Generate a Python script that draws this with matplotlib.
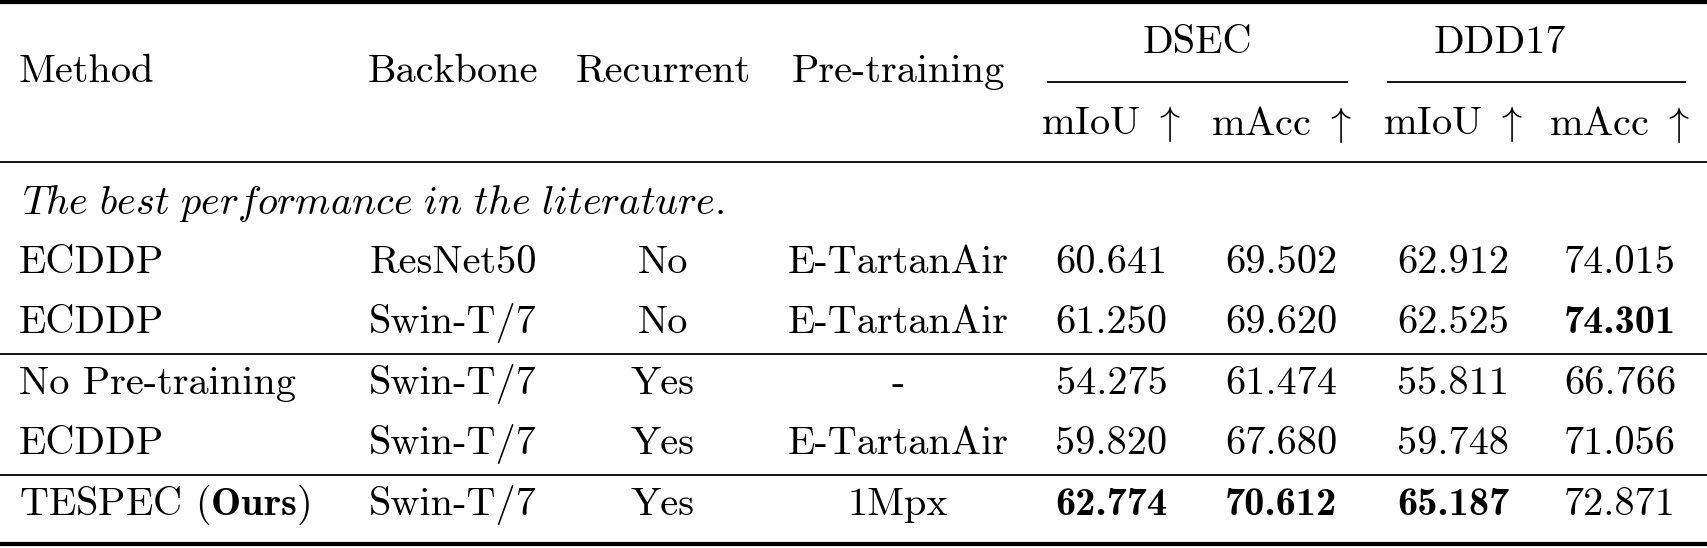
import matplotlib
matplotlib.use("Agg")
import matplotlib.pyplot as plt
from matplotlib.lines import Line2D

plt.rcParams['mathtext.fontset'] = 'cm'
plt.rcParams['axes.unicode_minus'] = False

methods = ["ECDDP", "ECDDP", "No Pre-training", "ECDDP", r"TESPEC ($\mathbf{Ours}$)"]
backbones = ["ResNet50", "Swin-T/7", "Swin-T/7", "Swin-T/7", "Swin-T/7"]
recurrent = ["No", "No", "Yes", "Yes", "Yes"]
pretraining = ["E-TartanAir", "E-TartanAir", "-", "E-TartanAir", "1Mpx"]
dsec_miou = ["60.641", "61.250", "54.275", "59.820", "62.774"]
dsec_macc = ["69.502", "69.620", "61.474", "67.680", "70.612"]
ddd_miou = ["62.912", "62.525", "55.811", "59.748", "65.187"]
ddd_macc = ["74.015", "74.301", "66.766", "71.056", "72.871"]
bold = {(1, 7), (4, 4), (4, 5), (4, 6)}

W, H = 1707, 548
S = W / 1568.0
fig = plt.figure(figsize=(W / 100, H / 100), dpi=100)

def X(x): return x * S / W
def Y(y): return 1 - y * S / H

FS = 29
def txt(x, y, s, ha='center', b=False):
    fam = 'cmb10' if b else 'cmr10'
    fig.text(X(x), Y(y), s, ha=ha, va='center', fontsize=FS, family=fam)

def hline(y, x0=0, x1=1568, lw=1.3):
    fig.add_artist(Line2D([X(x0), X(x1)], [Y(y), Y(y)], color='black', lw=lw))

hline(2, lw=3); hline(149); hline(325); hline(436); hline(500, lw=3)
hline(75, 963, 1237); hline(75, 1275, 1548)

txt(17, 66, "Method", ha='left')
txt(416, 66, "Backbone"); txt(609, 66, "Recurrent"); txt(825, 66, "Pre-training")
txt(1100, 40, "DSEC"); txt(1378, 40, "DDD17")
for cx in (1021, 1335):
    txt(cx, 114, r"mIoU $\uparrow$")
for cx in (1177, 1488):
    txt(cx, 114, r"mAcc $\uparrow$")
txt(20, 187, r"$\mathit{The\ best\ performance\ in\ the\ literature.}$", ha='left')

rows_y = [242, 297, 353, 408, 464]
cols_x = [416, 609, 825, 1021, 1177, 1335, 1488]
for i, y in enumerate(rows_y):
    txt(17, y, methods[i], ha='left')
    vals = [backbones[i], recurrent[i], pretraining[i], dsec_miou[i], dsec_macc[i], ddd_miou[i], ddd_macc[i]]
    for j, (cx, v) in enumerate(zip(cols_x, vals)):
        txt(cx, y, v, b=(i, j + 1) in bold)

fig.savefig("out.png", dpi=100)
